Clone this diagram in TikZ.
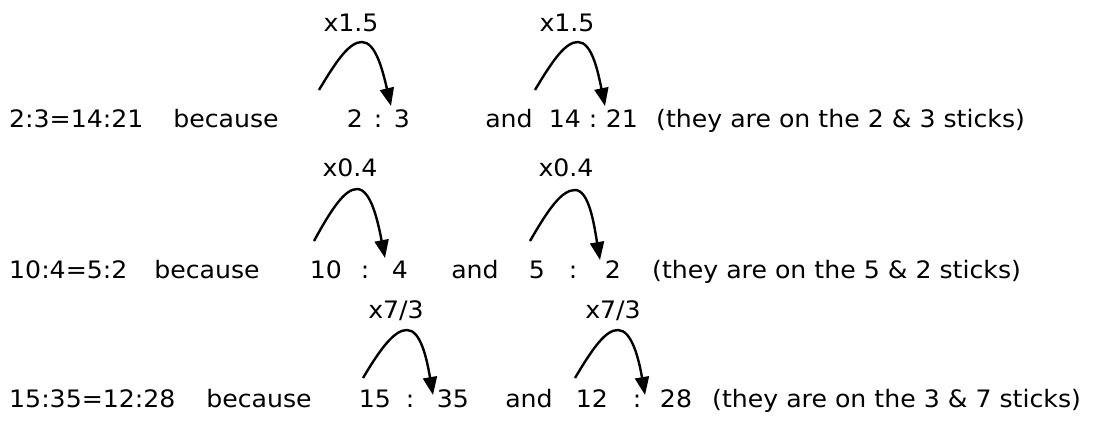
\documentclass[tikz,border=0pt]{standalone}
\usepackage{fontspec}
\setmainfont[FakeStretch=1.05]{DejaVu Sans}
\usetikzlibrary{arrows.meta}
\tikzset{
  txt/.style={anchor=base west, inner sep=0pt, font=\fontsize{24}{28}\selectfont},
  ctr/.style={anchor=base, inner sep=0pt, font=\fontsize{24}{28}\selectfont},
  jump/.style={line width=2.4pt, -{Triangle[length=18pt,width=14pt]}}
}
\begin{document}
\begin{tikzpicture}[x=1pt,y=-1pt]
\useasboundingbox (0,0) rectangle (1112,421);
% ---------- row 1 ----------
\node[txt] (r1a) at (9,127) {2:3=14:21};
\node[ctr] (r1b) at (226,127) {because};
\node[ctr] (r1c) at (355,127) {2};
\node[ctr] (r1d) at (378,127) {:};
\node[ctr] (r1e) at (402,127) {3};
\node[ctr] (r1f) at (509,127) {and};
\node[ctr] (r1g) at (565,127) {14};
\node[ctr] (r1h) at (593,127) {:};
\node[ctr] (r1i) at (622,127) {21};
\node[txt] (r1j) at (656,127) {(they are on the 2 \& 3 sticks)};
\node[ctr] (l1a) at (351,31) {x1.5};
\node[ctr] (l1b) at (567,31) {x1.5};
\coordinate (s1a) at (319,90); \coordinate (t1a) at (391,106);
\coordinate (s1b) at (535,90); \coordinate (t1b) at (605,106);
\draw[jump] (s1a) .. controls (338,58) and (350,42) .. (362,42) .. controls (376,42) and (383,72) .. (t1a);
\draw[jump] (s1b) .. controls (554,58) and (566,42) .. (578,42) .. controls (592,42) and (598,72) .. (t1b);
% ---------- row 2 ----------
\node[txt] (r2a) at (9,278) {10:4=5:2};
\node[ctr] (r2b) at (207,278) {because};
\node[ctr] (r2c) at (326,278) {10};
\node[ctr] (r2d) at (365,278) {:};
\node[ctr] (r2e) at (400,278) {4};
\node[ctr] (r2f) at (475,278) {and};
\node[ctr] (r2g) at (537,278) {5};
\node[ctr] (r2h) at (573,278) {:};
\node[ctr] (r2i) at (613,278) {2};
\node[txt] (r2j) at (652,278) {(they are on the 5 \& 2 sticks)};
\node[ctr] (l2a) at (350,176) {x0.4};
\node[ctr] (l2b) at (566,176) {x0.4};
\coordinate (s2a) at (314,241); \coordinate (t2a) at (385,258);
\coordinate (s2b) at (530,241); \coordinate (t2b) at (600,260);
\draw[jump] (s2a) .. controls (332,208) and (345,189) .. (357,189) .. controls (371,189) and (378,222) .. (t2a);
\draw[jump] (s2b) .. controls (549,208) and (562,190) .. (575,190) .. controls (589,190) and (594,224) .. (t2b);
% ---------- row 3 ----------
\node[txt] (r3a) at (9,407) {15:35=12:28};
\node[ctr] (r3b) at (259,407) {because};
\node[ctr] (r3c) at (375,407) {15};
\node[ctr] (r3d) at (410,407) {:};
\node[ctr] (r3e) at (453,407) {35};
\node[ctr] (r3f) at (529,407) {and};
\node[ctr] (r3g) at (592,407) {12};
\node[ctr] (r3h) at (637,407) {:};
\node[ctr] (r3i) at (676,407) {28};
\node[txt] (r3j) at (712,407) {(they are on the 3 \& 7 sticks)};
\node[ctr] (l3a) at (396,318) {x7/3};
\node[ctr] (l3b) at (613,318) {x7/3};
\coordinate (s3a) at (363,378); \coordinate (t3a) at (433,395);
\coordinate (s3b) at (575,378); \coordinate (t3b) at (645,395);
\draw[jump] (s3a) .. controls (382,346) and (395,330) .. (407,330) .. controls (421,330) and (427,360) .. (t3a);
\draw[jump] (s3b) .. controls (594,346) and (606,330) .. (618,330) .. controls (632,330) and (639,360) .. (t3b);
\end{tikzpicture}
\end{document}
